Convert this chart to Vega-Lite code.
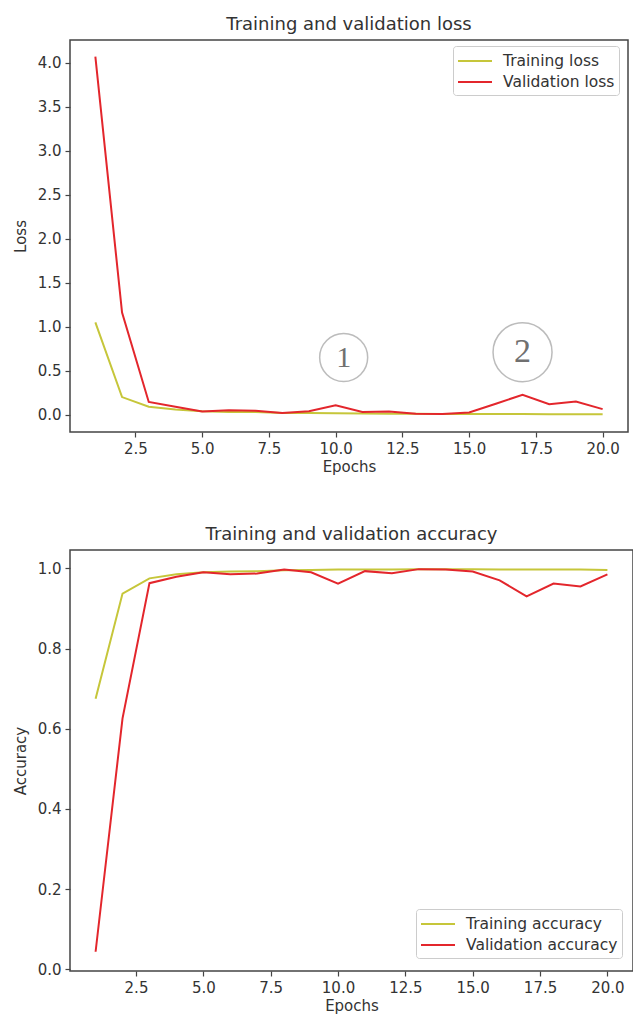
{
  "$schema": "https://vega.github.io/schema/vega-lite/v6.json",
  "background": "white",
  "padding": {"left": 12, "top": 15, "right": 0, "bottom": 0},
  "spacing": 50,
  "resolve": {"scale": {"x": "independent", "y": "independent", "color": "independent", "size": "independent"}, "legend": {"color": "independent"}},
  "datasets": {
    "loss": [
      {"epoch": 1, "series": "Training loss", "value": 1.05},
      {"epoch": 2, "series": "Training loss", "value": 0.2},
      {"epoch": 3, "series": "Training loss", "value": 0.09},
      {"epoch": 4, "series": "Training loss", "value": 0.06},
      {"epoch": 5, "series": "Training loss", "value": 0.04},
      {"epoch": 6, "series": "Training loss", "value": 0.03},
      {"epoch": 7, "series": "Training loss", "value": 0.03},
      {"epoch": 8, "series": "Training loss", "value": 0.02},
      {"epoch": 9, "series": "Training loss", "value": 0.02},
      {"epoch": 10, "series": "Training loss", "value": 0.015},
      {"epoch": 11, "series": "Training loss", "value": 0.012},
      {"epoch": 12, "series": "Training loss", "value": 0.01},
      {"epoch": 13, "series": "Training loss", "value": 0.01},
      {"epoch": 14, "series": "Training loss", "value": 0.008},
      {"epoch": 15, "series": "Training loss", "value": 0.008},
      {"epoch": 16, "series": "Training loss", "value": 0.007},
      {"epoch": 17, "series": "Training loss", "value": 0.007},
      {"epoch": 18, "series": "Training loss", "value": 0.006},
      {"epoch": 19, "series": "Training loss", "value": 0.006},
      {"epoch": 20, "series": "Training loss", "value": 0.006},
      {"epoch": 1, "series": "Validation loss", "value": 4.07},
      {"epoch": 2, "series": "Validation loss", "value": 1.16},
      {"epoch": 3, "series": "Validation loss", "value": 0.145},
      {"epoch": 4, "series": "Validation loss", "value": 0.09},
      {"epoch": 5, "series": "Validation loss", "value": 0.035},
      {"epoch": 6, "series": "Validation loss", "value": 0.05},
      {"epoch": 7, "series": "Validation loss", "value": 0.045},
      {"epoch": 8, "series": "Validation loss", "value": 0.02},
      {"epoch": 9, "series": "Validation loss", "value": 0.04},
      {"epoch": 10, "series": "Validation loss", "value": 0.107},
      {"epoch": 11, "series": "Validation loss", "value": 0.03},
      {"epoch": 12, "series": "Validation loss", "value": 0.035},
      {"epoch": 13, "series": "Validation loss", "value": 0.01},
      {"epoch": 14, "series": "Validation loss", "value": 0.008},
      {"epoch": 15, "series": "Validation loss", "value": 0.025},
      {"epoch": 16, "series": "Validation loss", "value": 0.125},
      {"epoch": 17, "series": "Validation loss", "value": 0.225},
      {"epoch": 18, "series": "Validation loss", "value": 0.118},
      {"epoch": 19, "series": "Validation loss", "value": 0.15},
      {"epoch": 20, "series": "Validation loss", "value": 0.063}
    ],
    "acc": [
      {"epoch": 1, "series": "Training accuracy", "value": 0.675},
      {"epoch": 2, "series": "Training accuracy", "value": 0.937},
      {"epoch": 3, "series": "Training accuracy", "value": 0.975},
      {"epoch": 4, "series": "Training accuracy", "value": 0.985},
      {"epoch": 5, "series": "Training accuracy", "value": 0.99},
      {"epoch": 6, "series": "Training accuracy", "value": 0.992},
      {"epoch": 7, "series": "Training accuracy", "value": 0.993},
      {"epoch": 8, "series": "Training accuracy", "value": 0.995},
      {"epoch": 9, "series": "Training accuracy", "value": 0.996},
      {"epoch": 10, "series": "Training accuracy", "value": 0.997},
      {"epoch": 11, "series": "Training accuracy", "value": 0.997},
      {"epoch": 12, "series": "Training accuracy", "value": 0.997},
      {"epoch": 13, "series": "Training accuracy", "value": 0.998},
      {"epoch": 14, "series": "Training accuracy", "value": 0.998},
      {"epoch": 15, "series": "Training accuracy", "value": 0.998},
      {"epoch": 16, "series": "Training accuracy", "value": 0.997},
      {"epoch": 17, "series": "Training accuracy", "value": 0.997},
      {"epoch": 18, "series": "Training accuracy", "value": 0.997},
      {"epoch": 19, "series": "Training accuracy", "value": 0.997},
      {"epoch": 20, "series": "Training accuracy", "value": 0.996},
      {"epoch": 1, "series": "Validation accuracy", "value": 0.044},
      {"epoch": 2, "series": "Validation accuracy", "value": 0.626},
      {"epoch": 3, "series": "Validation accuracy", "value": 0.963},
      {"epoch": 4, "series": "Validation accuracy", "value": 0.979},
      {"epoch": 5, "series": "Validation accuracy", "value": 0.99},
      {"epoch": 6, "series": "Validation accuracy", "value": 0.985},
      {"epoch": 7, "series": "Validation accuracy", "value": 0.987},
      {"epoch": 8, "series": "Validation accuracy", "value": 0.997},
      {"epoch": 9, "series": "Validation accuracy", "value": 0.99},
      {"epoch": 10, "series": "Validation accuracy", "value": 0.962},
      {"epoch": 11, "series": "Validation accuracy", "value": 0.993},
      {"epoch": 12, "series": "Validation accuracy", "value": 0.988},
      {"epoch": 13, "series": "Validation accuracy", "value": 0.998},
      {"epoch": 14, "series": "Validation accuracy", "value": 0.997},
      {"epoch": 15, "series": "Validation accuracy", "value": 0.992},
      {"epoch": 16, "series": "Validation accuracy", "value": 0.97},
      {"epoch": 17, "series": "Validation accuracy", "value": 0.93},
      {"epoch": 18, "series": "Validation accuracy", "value": 0.962},
      {"epoch": 19, "series": "Validation accuracy", "value": 0.955},
      {"epoch": 20, "series": "Validation accuracy", "value": 0.985}
    ],
    "notes": [
      {"epoch": 10.3, "value": 0.65, "label": "1"},
      {"epoch": 17.0, "value": 0.71, "label": "2"}
    ]
  },
  "config": {
    "font": "DejaVu Sans",
    "view": {"stroke": "#444444", "strokeWidth": 1.5},
    "axis": {
      "domain": false, "grid": false, "tickColor": "#444444", "tickSize": 5, "tickWidth": 1.2,
      "labelFont": "DejaVu Sans", "labelFontSize": 15, "labelColor": "#333333", "labelPadding": 4,
      "titleFont": "DejaVu Sans", "titleFontSize": 15, "titleFontWeight": "normal", "titleColor": "#333333"
    },
    "axisY": {"titlePadding": 9},
    "axisX": {"titlePadding": 3},
    "title": {"font": "DejaVu Sans", "fontSize": 18, "fontWeight": "normal", "color": "#333333", "offset": 6},
    "legend": {
      "title": null, "orient": "none", "fillColor": "white", "strokeColor": "#cccccc", "cornerRadius": 3,
      "padding": 4, "symbolType": "M-1,0H2.4", "symbolSize": 400, "symbolStrokeWidth": 2,
      "labelFont": "DejaVu Sans", "labelFontSize": 15.5, "labelColor": "#333333", "labelOffset": 24, "rowPadding": 1
    }
  },
  "vconcat": [
    {
      "width": 558, "height": 392,
      "title": {"text": "Training and validation loss"},
      "layer": [
        {
          "data": {"name": "loss"},
          "mark": {"type": "line", "strokeWidth": 2},
          "encoding": {
            "x": {"field": "epoch", "type": "quantitative", "title": "Epochs", "scale": {"domain": [0.05, 20.95], "nice": false, "zero": false}, "axis": {"values": [2.5, 5, 7.5, 10, 12.5, 15, 17.5, 20], "format": ".1f"}},
            "y": {"field": "value", "type": "quantitative", "title": "Loss", "scale": {"domain": [-0.197, 4.26], "nice": false, "zero": false}, "axis": {"values": [0, 0.5, 1, 1.5, 2, 2.5, 3, 3.5, 4], "format": ".1f"}},
            "color": {"field": "series", "type": "nominal", "scale": {"domain": ["Training loss", "Validation loss"], "range": ["#c6c63a", "#e3262c"]}, "legend": {"legendX": 383, "legendY": 6}}
          }
        },
        {
          "data": {"name": "notes"},
          "mark": {"type": "point", "shape": "circle", "filled": false, "stroke": "#a0a0a0", "strokeWidth": 1.5},
          "encoding": {
            "x": {"field": "epoch", "type": "quantitative"},
            "y": {"field": "value", "type": "quantitative"},
            "size": {"field": "label", "type": "nominal", "scale": {"domain": ["1", "2"], "range": [2304, 3481]}, "legend": null}
          }
        },
        {
          "data": {"name": "notes"},
          "mark": {"type": "text", "font": "Liberation Serif", "color": "#707070", "baseline": "middle", "align": "center"},
          "encoding": {
            "x": {"field": "epoch", "type": "quantitative"},
            "y": {"field": "value", "type": "quantitative"},
            "text": {"field": "label"},
            "size": {"field": "label", "type": "nominal", "scale": {"domain": ["1", "2"], "range": [30, 34]}, "legend": null}
          }
        }
      ],
      "resolve": {"scale": {"size": "independent"}}
    },
    {
      "width": 563, "height": 421,
      "title": {"text": "Training and validation accuracy"},
      "data": {"name": "acc"},
      "mark": {"type": "line", "strokeWidth": 2},
      "encoding": {
        "x": {"field": "epoch", "type": "quantitative", "title": "Epochs", "scale": {"domain": [0.05, 20.95], "nice": false, "zero": false}, "axis": {"values": [2.5, 5, 7.5, 10, 12.5, 15, 17.5, 20], "format": ".1f"}},
        "y": {"field": "value", "type": "quantitative", "title": "Accuracy", "scale": {"domain": [-0.004, 1.0457], "nice": false, "zero": false}, "axis": {"values": [0, 0.2, 0.4, 0.6, 0.8, 1], "format": ".1f"}},
        "color": {"field": "series", "type": "nominal", "scale": {"domain": ["Training accuracy", "Validation accuracy"], "range": ["#c6c63a", "#e3262c"]}, "legend": {"legendX": 346, "legendY": 359}}
      }
    }
  ]
}
